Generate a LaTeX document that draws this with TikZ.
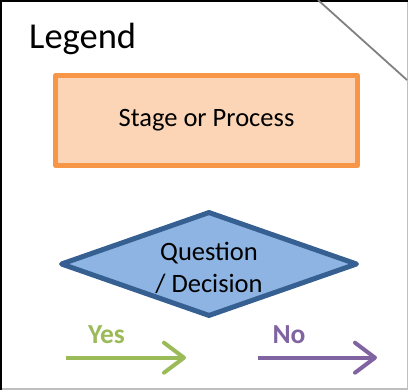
\documentclass[tikz,border=0pt]{standalone}
\usepackage{fontspec}
\setmainfont{Carlito}
\usetikzlibrary{shapes.geometric, arrows.meta, positioning}
\definecolor{stageorange}{HTML}{F79646}
\definecolor{stagefill}{HTML}{FBD5B5}
\definecolor{decisionblue}{HTML}{376092}
\definecolor{decisionfill}{HTML}{8DB4E2}
\definecolor{yesgreen}{HTML}{9BBB59}
\definecolor{nopurple}{HTML}{8064A2}
\tikzset{
    x=1pt, y=-1pt,
    stagebox/.style = {rectangle, draw=stageorange, fill=stagefill, line width=5pt,
                       line join=round, minimum width=302pt, minimum height=90pt,
                       font=\fontsize{26.5}{31}\selectfont}, % process box
    decisionbox/.style = {diamond, draw=decisionblue, fill=decisionfill, line width=5pt,
                          line join=round, aspect=2.85, minimum width=297pt,
                          minimum height=105pt, align=center, inner sep=0pt,
                          font=\fontsize{26.5}{32}\selectfont},
    flowarrow/.style = {line width=4pt, -{Straight Barb[length=20pt, width=30pt, round]}},
    flowlabel/.style = {anchor=base, inner sep=0pt, font=\fontsize{27.5}{32}\selectfont\bfseries}
}
\begin{document}
\begin{tikzpicture}
  \useasboundingbox (0,0) rectangle (408,390);
  % frame
  \draw[gray!50, line width=1.5pt] (407.25,0) -- (407.25,389.25) -- (0,389.25);
  \draw[black, line width=2pt] (1,390) -- (1,0.75) -- (408,0.75);
  \draw[gray, line width=1.8pt] (318,0) -- (407,80);
  % title
  \node[anchor=base west, inner sep=0pt, font=\fontsize{36.5}{43}\selectfont] (legend) at (29,49) {Legend};
  % shapes
  \node[stagebox] (stage) at (206.5,120.5) {Stage or Process};
  \node[decisionbox] (decision) at (209,264) {\raisebox{-4pt}[\height][\depth]{\parbox{4cm}{\centering Question\\/ Decision}}};
  % arrows
  \coordinate (yesstart) at (66,357.7);
  \coordinate (yesend) at (186,357.7);
  \coordinate (nostart) at (258,357.7);
  \coordinate (noend) at (377,357.7);
  \draw[flowarrow, yesgreen] (yesstart) -- (yesend);
  \draw[flowarrow, nopurple] (nostart) -- (noend);
  \node[flowlabel, text=yesgreen] (yes) at (106.5,344) {Yes};
  \node[flowlabel, text=nopurple] (no) at (289,344) {No};
\end{tikzpicture}
\end{document}
